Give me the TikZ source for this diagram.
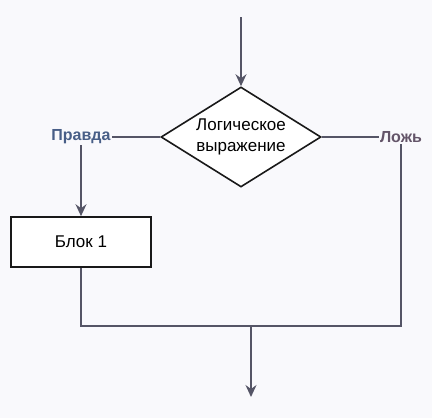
\documentclass[tikz,border=0pt]{standalone}
\usepackage{fontspec}
\setmainfont{Liberation Sans}
\usetikzlibrary{shapes.geometric, arrows.meta, calc}

\definecolor{bgcol}{RGB}{249,249,252}
\definecolor{linecol}{RGB}{85,85,102}
\definecolor{truecol}{RGB}{72,94,135}
\definecolor{falsecol}{RGB}{100,85,105}

\tikzset{
  decision/.style={diamond, aspect=1.6, draw=black!90, fill=white, line width=1.6pt,
    minimum width=160pt, minimum height=100pt, inner sep=0pt, align=center,
    font=\fontsize{17}{21}\selectfont},
  block/.style={rectangle, draw=black!90, fill=white, line width=1.6pt,
    minimum width=140pt, minimum height=50pt, font=\fontsize{17}{21}\selectfont},
  branch/.style={inner sep=1pt, font=\bfseries\fontsize{16}{19}\selectfont},
  flowline/.style={draw=linecol, line width=1.6pt},
  flowarrow/.style={flowline, -{Stealth[length=12pt,width=11pt,inset=4pt]}}
}

\begin{document}
\begin{tikzpicture}[x=1pt,y=-1pt]
      \fill[bgcol] (0,0) rectangle (432,418);
      \useasboundingbox (0,0) rectangle (432,418);

      \coordinate (start) at (241,17);
      \node[decision] (cond) at (241,137) {Логическое\\выражение};

      \node[branch, text=truecol] (yes) at (81,137) {Правда};
      \node[branch, text=falsecol] (no) at (401,137) {Ложь};

      \node[block] (blk) at (81,242) {Блок 1};

      \coordinate (joinl) at (81,326);
      \coordinate (joinr) at (401,326);
      \coordinate (join) at (251,326);
      \coordinate (stop) at (251,397);

      \draw[flowarrow] (start) -- (cond.north);
      \draw[flowline] (cond.west) -- (yes.east);
      \draw[flowline] (cond.east) -- (no.west);
      \draw[flowarrow] (yes.south) -- (blk.north);
      \draw[flowline] (blk.south) -- (joinl) -- (joinr) -- (no.south);
      \draw[flowarrow] (join) -- (stop);
    \end{tikzpicture}
\end{document}
